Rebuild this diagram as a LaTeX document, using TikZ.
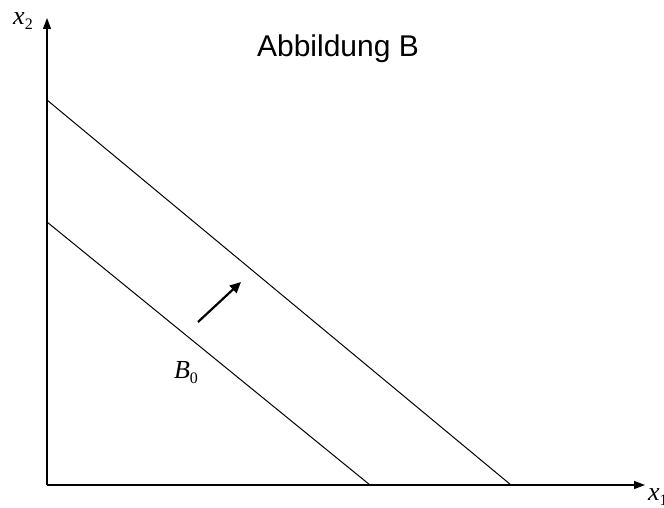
\documentclass[tikz,border=0pt]{standalone}
\usepackage{fontspec}
\setmainfont{Liberation Sans}
\newfontfamily\tnr{Liberation Serif}
\usetikzlibrary{arrows.meta}
\tikzset{
  axis/.style={line width=1.3pt,-{Triangle[length=11pt,width=8pt]}},
  budget/.style={line width=1pt},
  shift arrow/.style={line width=2.2pt,-{Triangle[length=11pt,width=10pt]}},
  lbl/.style={inner sep=0pt,font=\tnr\fontsize{26}{28}\selectfont\itshape},
}
\newcommand{\sbx}[1]{\raisebox{-5pt}{\upshape\fontsize{16}{18}\selectfont #1}}
\begin{document}
\begin{tikzpicture}[x=1pt,y=-1pt]
\useasboundingbox[fill=white] (0,0) rectangle (664,508);
\coordinate (O) at (47,485);
\coordinate (ytop) at (47,18);
\coordinate (xend) at (645,485);
\coordinate (a1) at (47,222);
\coordinate (b1) at (370,485);
\coordinate (a2) at (47,100);
\coordinate (b2) at (511,485);
\coordinate (s) at (198,322);
\coordinate (t) at (241,282);
\draw[axis] (O) -- (ytop);
\draw[axis] (O) -- (xend);
\draw[budget] (a1) -- (b1);
\draw[budget] (a2) -- (b2);
\draw[shift arrow] (s) -- (t);
\node[lbl] (x2) at (23,21) {x\sbx{2}};
\node[lbl,anchor=west] (x1) at (648,497) {x\sbx{1}};
\node[lbl] (B0) at (186,373) {B\sbx{0}};
\node[inner sep=0pt,font=\fontsize{30}{34}\selectfont] (title) at (338,49) {Abbildung B};
\end{tikzpicture}
\end{document}
